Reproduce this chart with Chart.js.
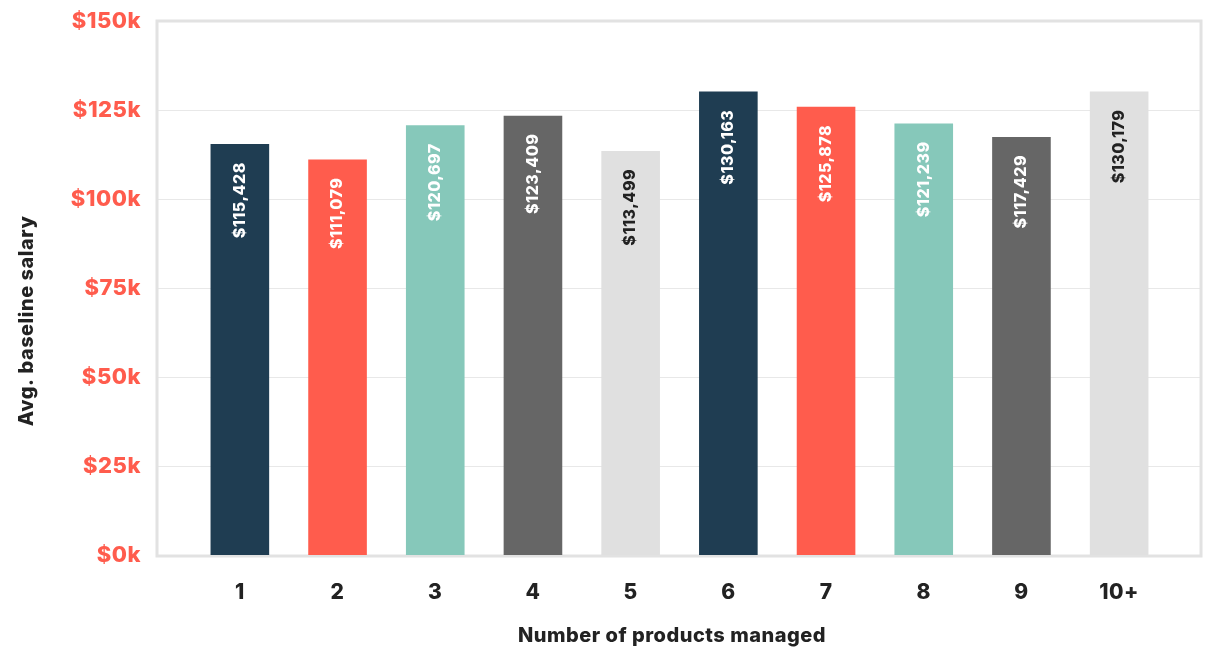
<!DOCTYPE html>
<html>
<head>
<meta charset="utf-8">
<script src="https://cdn.jsdelivr.net/npm/chart.js@4/dist/chart.umd.min.js"></script>
<style>
  html, body { margin: 0; padding: 0; background: #fff; }
  #wrap { width: 1205px; height: 650px; }
</style>
</head>
<body>
<div id="wrap"><canvas id="salaryChart" width="1205" height="650"></canvas></div>
<script>
const productCounts = ["1", "2", "3", "4", "5", "6", "7", "8", "9", "10+"];
const avgSalary = [115428, 111079, 120697, 123409, 113499, 130163, 125878, 121239, 117429, 130179];
const yTicks = [0, 25000, 50000, 75000, 100000, 125000, 150000];
const xTitle = "Number of products managed";
const yTitle = "Avg. baseline salary";

const barColors = ["#1f3d52", "#ff5c4d", "#86c8ba", "#666666", "#e0e0e0",
                   "#1f3d52", "#ff5c4d", "#86c8ba", "#666666", "#e0e0e0"];
const labelColors = ["#ffffff", "#ffffff", "#ffffff", "#ffffff", "#222222",
                     "#ffffff", "#ffffff", "#ffffff", "#ffffff", "#222222"];

const fontFam = "Inter, 'Noto Sans', sans-serif";

// a bit of tracking so the bold text sits wider
const spacing = {
  id: "spacing",
  beforeDraw(chart) {
    chart.ctx.letterSpacing = "0.5px";
  }
};

// grid lines + frame reach past the category area on both sides
const frameBox = {
  id: "frameBox",
  beforeDatasetsDraw(chart) {
    const ctx = chart.ctx;
    const area = chart.chartArea;
    const y = chart.scales.y;
    const left = area.left - 34;
    const right = area.right + 33;
    ctx.save();
    ctx.strokeStyle = "#e8e8e8";
    ctx.lineWidth = 1;
    yTicks.forEach(v => {
      const py = Math.round(y.getPixelForValue(v)) + 0.5;
      ctx.beginPath();
      ctx.moveTo(left, py);
      ctx.lineTo(right, py);
      ctx.stroke();
    });
    ctx.strokeStyle = "#e2e2e2";
    ctx.lineWidth = 3;
    ctx.strokeRect(left, area.top, right - left, area.bottom - area.top + 1);
    ctx.restore();
  }
};

// rotated value labels inside the top of each bar
const barValues = {
  id: "barValues",
  afterDatasetsDraw(chart) {
    const ctx = chart.ctx;
    const meta = chart.getDatasetMeta(0);
    ctx.save();
    ctx.font = "800 16px " + fontFam;
    ctx.textAlign = "right";
    ctx.textBaseline = "middle";
    meta.data.forEach((bar, i) => {
      const txt = "$" + avgSalary[i].toLocaleString("en-US");
      ctx.save();
      ctx.translate(bar.x, bar.y + 18);
      ctx.rotate(-Math.PI / 2);
      ctx.fillStyle = labelColors[i];
      ctx.fillText(txt, 0, 0);
      ctx.restore();
    });
    ctx.restore();
  }
};

// axis titles, placed by hand
const axisTitles = {
  id: "axisTitles",
  afterDraw(chart) {
    const ctx = chart.ctx;
    ctx.save();
    ctx.fillStyle = "#222222";
    ctx.font = "800 20px " + fontFam;
    ctx.textAlign = "center";
    ctx.textBaseline = "middle";
    ctx.fillText(xTitle, 672, 636);
    ctx.translate(27, 321);
    ctx.rotate(-Math.PI / 2);
    ctx.fillText(yTitle, 0, 0);
    ctx.restore();
  }
};

new Chart(document.getElementById("salaryChart"), {
  type: "bar",
  data: {
    labels: productCounts,
    datasets: [{
      data: avgSalary,
      backgroundColor: barColors,
      borderWidth: 0,
      barPercentage: 0.6,
      categoryPercentage: 1.0
    }]
  },
  options: {
    responsive: false,
    animation: false,
    devicePixelRatio: 1,
    layout: { padding: { top: 0, right: 37, bottom: 0, left: 0 } },
    plugins: {
      legend: { display: false },
      tooltip: { enabled: false }
    },
    scales: {
      x: {
        grid: { display: false, drawTicks: false },
        border: { display: false },
        ticks: {
          color: "#222222",
          font: { family: fontFam, size: 21, weight: "800" },
          padding: 25,
          maxRotation: 0
        },
        afterFit(axis) {
          axis.height = 95;
          axis.paddingLeft = 0;
          axis.paddingRight = 0;
        }
      },
      y: {
        min: 0,
        max: 150000,
        afterBuildTicks(axis) {
          axis.ticks = yTicks.map(v => ({ value: v }));
        },
        grid: { display: false, drawTicks: false },
        border: { display: false },
        ticks: {
          color: "#ff5c4d",
          font: { family: fontFam, size: 22, weight: "800" },
          padding: 50,
          callback: v => "$" + (v / 1000) + "k"
        },
        afterFit(axis) {
          axis.width = 191;
          axis.paddingTop = 21;
          axis.paddingBottom = 0;
        }
      }
    }
  },
  plugins: [spacing, frameBox, barValues, axisTitles]
});
</script>
</body>
</html>
